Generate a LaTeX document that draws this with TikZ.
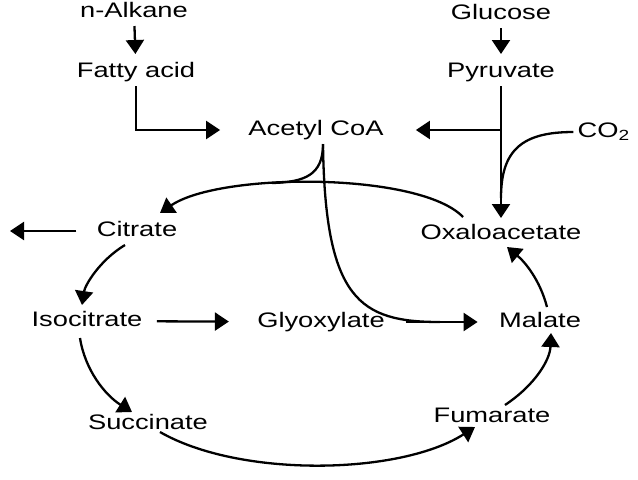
\documentclass[tikz,border=0pt]{standalone}
\usepackage{fontspec}
\setmainfont{Liberation Sans}[FakeStretch=1.3]
\usepackage{tikz}
\usetikzlibrary{arrows.meta, positioning, calc}

\tikzset{
  met/.style={font=\fontsize{10.5}{12}\selectfont, inner sep=2pt,
    text height=7.6pt, text depth=2pt},
  link/.style={line width=1.15pt},
  flow/.style={link, -{Triangle[length=7pt,width=9pt]}},
}

\begin{document}
\begin{tikzpicture}[x=0.5pt, y=-0.5pt]
\useasboundingbox (0,0) rectangle (638,479);
% feed-in substrates
\node[met] (alkane) at (134,12) {n-Alkane};
\node[met] (fatty) at (136,72) {Fatty acid};
\node[met] (glucose) at (501,14) {Glucose};
\node[met] (pyruvate) at (501,72) {Pyruvate};
\node[met] (acetyl) at (316,130) {Acetyl CoA};
\node[met] (co2) at (604,132) {CO\textsubscript{2}};

% cycle intermediates
\node[met] (oxalo) at (501,234) {Oxaloacetate};
\node[met] (citrate) at (137,231) {Citrate};
\node[met] (isocit) at (87,321) {Isocitrate};
\node[met] (glyox) at (321,322) {Glyoxylate};
\node[met] (malate) at (540,322) {Malate};
\node[met] (succ) at (148,424) {Succinate};
\node[met] (fumar) at (492,417) {Fumarate};

\coordinate (fork) at (pyruvate.south |- acetyl);
\coordinate (co2join) at (501,198);
\coordinate (cusp) at ($(acetyl.south)+(7,0)$);
\coordinate (merge) at (272,183);
\coordinate (glyjoin) at (440,322);
\coordinate (export) at (10,231);

% entry arrows
\draw[flow, shorten >=2pt] (alkane) -- (fatty);
\draw[flow, shorten >=2pt] (glucose) -- (pyruvate);
\draw[flow, shorten >=12pt] (fatty.south) |- (acetyl.west);
\draw[flow, shorten >=1pt] (pyruvate.south) -- (oxalo.north);
\draw[flow, shorten >=14pt] (fork) -- (acetyl.east);
\draw[link] (co2.west) .. controls (522,132) and (501,150) .. (co2join);

% the cycle
\draw[flow] ($(oxalo.north)+(-38,-3)$) .. controls (420,172) and (220,172) .. ($(citrate.north)+(23,-4)$);
\draw[link] (cusp) .. controls (323,175) and (305,182) .. (merge);
\draw[link] (cusp) .. controls (325,300) and (360,322) .. (glyjoin);
\draw[flow, shorten <=8pt] (citrate.west) -- (export);
\draw[flow] ($(citrate.south)+(-12,0)$) .. controls (100,260) and (85,285) .. ($(isocit.north)+(-5,-2)$);
\draw[flow, shorten <=5pt, shorten >=12pt] (isocit) -- (glyox);
\draw[flow, shorten <=8.5pt, shorten >=8.5pt] (glyox) -- (malate);
\draw[flow] ($(isocit.south)+(-7,3)$) .. controls (85,370) and (105,395) .. ($(succ.north)+(-16,2)$);
\draw[flow] ($(succ.south)+(12,-6)$) .. controls (240,478) and (400,475) .. ($(fumar.south)+(-17,-4)$);
\draw[flow] ($(fumar.north)+(13,2)$) .. controls (535,385) and (550,360) .. ($(malate.south)+(11,-3)$);
\draw[flow] ($(malate.north)+(7,-1)$) .. controls (540,280) and (525,262) .. ($(oxalo.south)+(6,-1)$);
\end{tikzpicture}
\end{document}
